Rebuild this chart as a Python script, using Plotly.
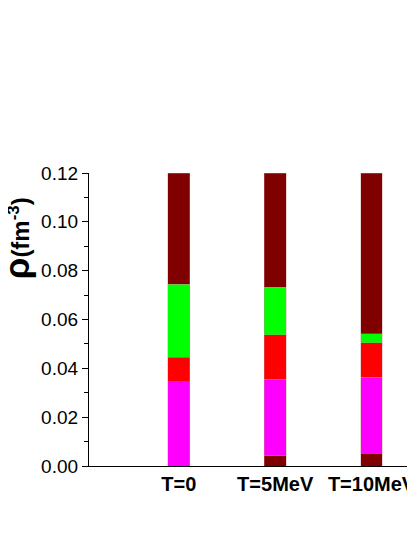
import plotly.graph_objects as go

categories = ["T=0", "T=5MeV", "T=10MeV"]
x_pos = [0, 1, 2]
# stacked segment thicknesses (fm^-3), bottom to top
maroon_bottom = [0.0, 0.0042, 0.0052]
magenta = [0.0345, 0.0314, 0.0312]
red = [0.0100, 0.0182, 0.0140]
green = [0.0300, 0.0195, 0.0038]
maroon_top = [0.0455, 0.0467, 0.0658]

y_ticks = [0.00, 0.02, 0.04, 0.06, 0.08, 0.10, 0.12]
y_tick_labels = ["0.00", "0.02", "0.04", "0.06", "0.08", "0.10", "0.12"]

series = [
    (maroon_bottom, "#800000"),
    (magenta, "#ff00ff"),
    (red, "#ff0000"),
    (green, "#00ff00"),
    (maroon_top, "#800000"),
]

FONT = "Liberation Sans, Arial, sans-serif"

fig = go.Figure()
for vals, col in series:
    fig.add_trace(go.Bar(
        x=x_pos, y=vals, width=0.226,
        marker=dict(color=col, line=dict(color="rgba(200,140,140,0.6)", width=0.6)),
        showlegend=False,
    ))

# page body has an 8px margin; compensate so the plot lands where the reference has it
fig.update_layout(
    barmode="stack",
    width=407, height=529,
    margin=dict(l=81, r=0, t=165, b=71),
    paper_bgcolor="white", plot_bgcolor="white",
    font=dict(family=FONT, color="black"),
    xaxis=dict(
        range=[-0.933, 2.41],
        tickvals=x_pos, ticktext=categories,
        tickfont=dict(size=20, family=FONT, weight="bold"),
        ticklabeloverflow="allow",
        showline=True, linecolor="black", linewidth=1.3,
        ticks="", showgrid=False, zeroline=False,
    ),
    yaxis=dict(
        range=[0, 0.12],
        tickvals=y_ticks, ticktext=y_tick_labels,
        tickfont=dict(size=19),
        showline=True, linecolor="black", linewidth=1.3,
        ticks="outside", ticklen=6, tickwidth=1.3, tickcolor="black",
        minor=dict(ticks="outside", ticklen=3.5, tickwidth=1, tickcolor="black", dtick=0.01),
        showgrid=False, zeroline=False,
    ),
)

fig.add_annotation(
    xref="paper", yref="paper", x=-0.226, y=0.778,
    xanchor="center", yanchor="middle",
    text="<b><span style='font-size:35px'>ρ</span><span style='font-size:24px'>(fm<sup>-3</sup>)</span></b>",
    textangle=-90, showarrow=False,
    font=dict(family=FONT, color="black"),
)

fig.write_html("out.html")
